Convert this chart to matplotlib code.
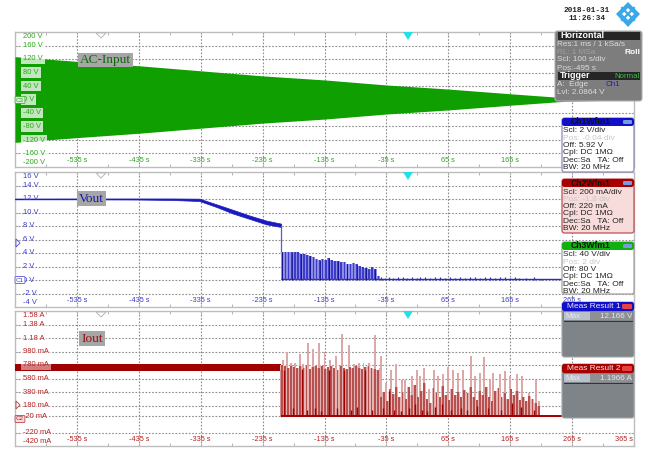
import matplotlib
matplotlib.use("Agg")
import matplotlib.pyplot as plt
from matplotlib.patches import FancyBboxPatch, Rectangle, Polygon

plt.rcParams['font.family'] = ['Liberation Sans', 'DejaVu Sans']

# time axis shared by the three traces
time_ticks = [-535, -435, -335, -235, -135, -35, 65, 165, 265, 365]
time_minor = [-585, -485, -385, -285, -185, -85, 15, 115, 215, 315]
time_labels = ['-535 s', '-435 s', '-335 s', '-235 s', '-135 s', '-35 s', '65 s', '165 s', '265 s', '365 s']

# AC input envelope
ac_t = [-635, -535, -435, -335, -235, -135, -35, 65, 165, 255, 365]
ac_upper = [127, 113, 100, 85, 70, 58, 43, 31, 17, 5, 1]
ac_ticks = [200, 160, 120, 80, 40, 0, -40, -80, -120, -160, -200]
ac_labels = ['200 V', '160 V', '120 V', '80 V', '40 V', '0 V', '-40 V', '-80 V', '-120 V', '-160 V', '-200 V']

# Vout: regulated part, then hiccup pulses
vout_t = [-635, -535, -435, -380, -337, -309, -283, -256, -229, -205]
vout_hi = [12.07, 12.08, 12.08, 12.08, 12.05, 11.2, 10.4, 9.55, 8.8, 8.35]
vout_lo = [11.95, 11.95, 11.92, 11.85, 11.7, 10.8, 9.85, 9.05, 8.25, 7.85]
vout_pulse_t = [-203, -198, -193, -188, -183, -178, -173, -168, -163, -158, -153, -148, -143, -138, -133, -128,
                -123, -118, -113, -108, -103, -98, -93, -88, -83, -78, -73, -68, -63, -58, -53, -48]
vout_pulse_v = [4.2, 4.1, 4.15, 4.2, 4.1, 4.15, 3.9, 3.8, 3.7, 3.5, 3.4, 3.1, 3.0, 3.05, 3.0, 3.2,
                2.9, 2.8, 2.85, 2.7, 2.6, 2.4, 2.3, 2.5, 2.3, 2.1, 2.0, 1.8, 1.7, 1.9, 1.7, 0.6]
vout_ripple_t = [-44, -38, -30, -24, -16, -8, -2, 6, 14, 20, 28, 36, 44, 52, 60, 68, 76, 84, 92, 100,
                 108, 116, 124, 132, 140, 148, 156, 164, 172, 180, 190, 204, 214]
vout_ripple_v = [0.4, 0.3, 0.45, 0.35, 0.5, 0.4, 0.3, 0.45, 0.35, 0.4, 0.45, 0.3, 0.45, 0.4, 0.3, 0.4, 0.35, 0.45, 0.3, 0.4,
                 0.45, 0.35, 0.4, 0.45, 0.3, 0.4, 0.5, 0.35, 0.45, 0.3, 0.35, 0.4, 0.2]
vout_ticks = [14, 12, 10, 8, 6, 4, 2, 0, -2]
vout_labels = ['14 V', '12 V', '10 V', '8 V', '6 V', '4 V', '2 V', '0 V', '-2 V']

# Iout: steady band, tall spikes, denser body of pulses, short dark pulses
iout_band_t = [-635, -205]
iout_band_hi = [0.795, 0.795]
iout_band_lo = [0.685, 0.685]
spike_t = [-202, -196, -189, -182, -175, -169, -161, -153, -144, -135, -126, -117, -107, -96, -88, -80, -72, -63, -54,
           -46, -43, -36, -27, -19, -10, -5, 6, 14, 20, 26, 34, 42, 49, 57, 65, 73, 81, 89, 101, 108, 116, 123, 132,
           138, 148, 156, 164, 176, 184, 195, 206, 212]
spike_a = [.86, .97, .81, .81, .95, .79, 1.10, 1.01, 1.11, .98, .86, .91, 1.24, 1.08, .79, .81, .81, .81, 1.23,
           .74, .92, .51, .71, .79, .56, .56, .61, .71, .61, .74, .42, .71, .61, .64, .75, .71, .66, .71, .92, .61,
           .66, .90, .56, .66, .64, .69, .61, .65, .61, .36, .56, .24]
body_t = [-204, -199, -194, -189, -184, -179, -174, -169, -164, -159, -154, -149, -144, -139, -134, -129, -124, -119,
          -114, -109, -104, -99, -94, -89, -84, -79, -74, -69, -64, -59, -54, -49, -44, -39, -34, -29, -24, -19, -14,
          -9, -4, 1, 6, 11, 16, 21, 26, 31, 36, 41, 46, 51, 56, 61, 66, 71, 76, 81, 86, 91, 96, 101, 106, 111, 116,
          121, 126, 131, 136, 141, 146, 151, 156, 161, 166, 171, 176, 181, 186, 191, 196, 201, 206, 211]
body_a = [.78, .76, .74, .77, .75, .73, .76, .74, .78, .72, .75, .77, .74, .76, .72, .75, .77, .73, .71, .76,
          .74, .72, .75, .73, .76, .74, .72, .75, .77, .74, .72, .70, .30, .38, .25, .42, .35, .46, .30, .38, .27,
          .45, .33, .48, .30, .40, .52, .28, .22, .44, .36, .30, .47, .33, .26, .42, .34, .38, .30, .41, .36,
          .45, .30, .26, .40, .34, .46, .30, .25, .39, .44, .30, .36, .28, .42, .33, .40, .26, .30, .24, .32, .28, .22, .18]
dark_t = [-200, -186, -172, -163, -150, -140, -128, -115, -104, -92, -83, -70, -58, -41, -31, -22, -12, 1, 11, 23,
          31, 44, 55, 70, 86, 95, 111, 129, 150, 168, 183, 204]
dark_a = [.70, .14, .72, .12, .14, .10, .70, .14, .70, .12, .16, .70, .12, .14, .40, .12, .10, .14, .20, .12,
          .10, .16, .20, .12, .14, .12, .18, .14, .12, .22, .16, .12]
iout_ticks = [1.38, 1.18, 0.98, 0.78, 0.58, 0.38, 0.18, 0.02, -0.22]
iout_labels = ['1.38 A', '1.18 A', '980 mA', '780 mA', '580 mA', '380 mA', '180 mA', '-20 mA', '-220 mA']

GREEN = '#0f9f00'
BLUE = '#1a1ac0'
RED = '#a00000'
GRID = '#8c8c8c'
W, H = 649, 449

fig = plt.figure(figsize=(W / 100, H / 100), dpi=100, facecolor='white')


def make_panel(top, bottom, ymin, ymax, ticks, labels, color, first, last, box_alpha, n_time):
    ax = fig.add_axes([15 / W, 1 - bottom / H, (634 - 15) / W, (bottom - top) / H])
    ax.set_xlim(-635, 365)
    ax.set_ylim(ymin, ymax)
    ax.set_xticks(time_ticks)
    ax.set_xticks(time_minor, minor=True)
    ax.set_yticks(ticks)
    ax.set_xticklabels([])
    ax.set_yticklabels([])
    ax.tick_params(which='both', direction='in', length=2, width=0.6, color='#a8a8a8', top=True, right=True)
    ax.grid(True, color=GRID, lw=0.8, ls=(0, (1.5, 1.5)), zorder=1)
    ax.set_axisbelow(True)
    for s in ax.spines.values():
        s.set_color('#bdbdbd')
        s.set_linewidth(1.0)
    # labels under the side boxes are left out
    for t, lab in zip(time_ticks[:n_time], time_labels[:n_time]):
        ha, dx = ('right', -1) if t == 365 else ('center', 0)
        ax.annotate(lab, (t, 0), xycoords=('data', 'axes fraction'), xytext=(dx, 2.5), textcoords='offset points',
                    ha=ha, va='bottom', fontsize=5.3, color=color, zorder=6)
    for v, lab in zip(ticks, labels):
        ax.annotate(lab, (0, v), xycoords=('axes fraction', 'data'), xytext=(6, 0), textcoords='offset points',
                    ha='left', va='center', fontsize=5.4, color=color, zorder=6,
                    bbox=dict(boxstyle='square,pad=0.25', fc='white', ec='none', alpha=box_alpha))
    # outermost labels sit inside the frame, off the scale
    ax.annotate(first, (0, 1), xycoords='axes fraction', xytext=(6, -3.5), textcoords='offset points',
                ha='left', va='center', fontsize=5.4, color=color)
    ax.annotate(last, (0, 0), xycoords='axes fraction', xytext=(6, 3.5), textcoords='offset points',
                ha='left', va='center', fontsize=5.4, color=color)
    return ax


ax1 = make_panel(32, 167, -200, 200, ac_ticks[1:-1], ac_labels[1:-1], '#2aa81a', ac_labels[0], ac_labels[-1], 0.75, 8)
ax2 = make_panel(172, 307, -4, 16, vout_ticks, vout_labels, '#3a3ad0', '16 V', '-4 V', 0, 9)
ax3 = make_panel(311, 446, -0.42, 1.58, iout_ticks, iout_labels, '#b52020', '1.58 A', '-420 mA', 0.5, 10)

ax1.fill_between(ac_t, ac_upper, [-v for v in ac_upper], color=GREEN, lw=0, zorder=3)

ax2.fill_between(vout_t, vout_hi, vout_lo, color=BLUE, lw=0.5, zorder=3)
ax2.plot([-205, -205], [8.0, 4.2], color='#5a5ad8', lw=0.9, zorder=3)
ax2.bar(vout_pulse_t, vout_pulse_v, width=5, color='#8c8ce4', lw=0, zorder=3)
ax2.bar(vout_pulse_t, vout_pulse_v, width=2.6, color='#3c3cc8', lw=0, zorder=3.5)
ax2.vlines(vout_pulse_t[::3], 0, vout_pulse_v[::3], color='#10108c', lw=0.6, zorder=4)
ax2.vlines(vout_ripple_t, 0, vout_ripple_v, color='#3030c0', lw=0.9, zorder=3)
ax2.hlines(0.08, -205, 365, color='#2a2ac4', lw=1.0, zorder=3)

ax3.fill_between(iout_band_t, iout_band_hi, iout_band_lo, color=RED, lw=0, zorder=3)
ax3.plot([-205, -205], [0.7, 0.02], color=RED, lw=1, zorder=4)
ax3.bar(spike_t, [a - 0.02 for a in spike_a], bottom=0.02, width=3.2, color='#dca8a8', lw=0, zorder=3)
ax3.bar(body_t, [a - 0.02 for a in body_a], bottom=0.02, width=5, color='#e2b4b4', lw=0, zorder=3.5)
ax3.bar(body_t, [a - 0.02 for a in body_a], bottom=0.02, width=3, color='#b85050', lw=0, zorder=4)
ax3.vlines(dark_t, 0.02, dark_a, color=RED, lw=1.0, zorder=5)
ax3.hlines(0.025, -205, 365, color=RED, lw=1.4, zorder=5)

# overlay in pixel coordinates for the instrument furniture
ov = fig.add_axes([0, 0, 1, 1], zorder=10)
ov.set_xlim(0, W)
ov.set_ylim(H, 0)
ov.axis('off')
ov.patch.set_alpha(0)


def box(x0, y0, x1, y1, fc, ec='none', lw=0.8, r=2.5, z=11):
    p = FancyBboxPatch((x0 + r, y0 + r), x1 - x0 - 2 * r, y1 - y0 - 2 * r, boxstyle=f'round,pad={r},rounding_size={r}',
                       fc=fc, ec=ec, lw=lw, zorder=z)
    ov.add_patch(p)


def txt(x, y, s, color='black', size=6.2, **kw):
    ov.text(x, y, s, color=color, fontsize=size, va='center', zorder=13, **kw)


# waveform name tags
for x0, y0, x1, y1, name, col in [(78, 53, 133, 67, 'AC-Input', '#0a6a0a'), (77, 191, 106, 206, 'Vout', '#1a1aa0'),
                                  (79, 331, 105, 346, 'Iout', '#9a1010')]:
    ov.add_patch(Rectangle((x0, y0), x1 - x0, y1 - y0, fc='#a6a6a6', ec='none', zorder=11))
    txt((x0 + x1) / 2, (y0 + y1) / 2, name, col, 9.5, ha='center', family=['Liberation Serif', 'DejaVu Serif'])

# trigger and position markers
for y in [32, 172, 311]:
    ov.add_patch(Polygon([(403, y), (413, y), (408, y + 8)], fc='#22e0e8', ec='none', zorder=12))
    ov.add_patch(Polygon([(96, y + 1), (106, y + 1), (101, y + 6)], fc='white', ec='#b8b8b8', lw=0.7, zorder=12))
ov.add_patch(Polygon([(16, 239), (16, 247), (20, 243)], fc='white', ec='#4a4ac8', lw=0.6, zorder=12))
ov.add_patch(Polygon([(16, 401), (16, 409), (20, 405)], fc='white', ec='#b04040', lw=0.6, zorder=12))
for yy, lab, col, fc in [(100, 'C3', '#2aa81a', '#d8f0d4'), (280, 'C1', '#3a3ad0', 'white'), (419, 'C2', '#b52020', '#f4dcdc')]:
    ov.text(20, yy, lab, color=col, fontsize=4.5, ha='center', va='center', zorder=12,
            bbox=dict(boxstyle='round,pad=0.15', fc=fc, ec=col, lw=0.5))

# date and logo
txt(587, 11, '2018-01-31', '#222222', 5.6, ha='center', weight='bold', family=['Liberation Mono', 'DejaVu Sans Mono'])
txt(587, 19, '11:26:34', '#222222', 5.6, ha='center', weight='bold', family=['Liberation Mono', 'DejaVu Sans Mono'])
ov.add_patch(Polygon([(628, 2), (640, 14), (628, 27), (616, 14)], fc='#3aa8e8', ec='none', zorder=11))
ov.add_patch(Polygon([(628, 8), (634, 14), (628, 20), (622, 14)], fc='white', ec='none', zorder=12))
ov.plot([622, 634], [8, 20], color='#3aa8e8', lw=1.6, zorder=13)
ov.plot([634, 622], [8, 20], color='#3aa8e8', lw=1.6, zorder=13)

# horizontal / trigger box
box(555, 31, 642, 101, '#7d7d7d', '#b0b0b0')
ov.add_patch(Rectangle((558, 32), 82, 7.5, fc='#262626', ec='none', zorder=12))
txt(560, 35.5, 'Horizontal', 'white', 6.4, weight='bold')
txt(557, 44, 'Res:1 ms / 1 kSa/s', '#dcdcdc', 5.9)
txt(557, 52, 'RL: 1 MSa', '#a0a0a0', 5.9)
txt(640, 52, 'Roll', 'white', 6, weight='bold', ha='right')
txt(557, 59.5, 'Scl: 100 s/div', '#dcdcdc', 5.9)
txt(557, 68, 'Pos:-495 s', '#dcdcdc', 5.9)
ov.add_patch(Rectangle((558, 72), 82, 8, fc='#262626', ec='none', zorder=12))
txt(560, 76, 'Trigger', 'white', 6.4, weight='bold')
txt(640, 76, 'Normal', '#40c040', 5.6, ha='right')
txt(557, 85, 'A:  Edge', '#dcdcdc', 5.9)
txt(606, 85, 'Ch1', '#2020c8', 5.9)
txt(557, 93, 'Lvl: 2.0864 V', '#dcdcdc', 5.9)

# channel boxes
channels = [
    (118, 172, 'Ch1Wfm1', '#1010c8', 'white', '#8a8ab8', ['Scl: 2 V/div', 'Pos: -0.04 div', 'Off: 5.92 V', 'Cpl: DC 1MΩ', 'Dec:Sa   TA: Off', 'BW: 20 MHz']),
    (179, 233, 'Ch2Wfm1', '#a80000', '#f8dcdc', '#c05050', ['Scl: 200 mA/div', 'Pos: -1.8 div', 'Off: 220 mA', 'Cpl: DC 1MΩ', 'Dec:Sa   TA: Off', 'BW: 20 MHz']),
    (242, 294, 'Ch3Wfm1', '#10b010', 'white', '#a0a0a0', ['Scl: 40 V/div', 'Pos: 2 div', 'Off: 80 V', 'Cpl: DC 1MΩ', 'Dec:Sa   TA: Off', 'BW: 20 MHz']),
]
for y0, y1, name, head, fc, ec, rows in channels:
    box(562, y0, 634, y1, fc, ec, lw=0.9)
    box(562, y0, 634, y0 + 8, head, 'none', r=2.5, z=12)
    txt(591, y0 + 4, name, '#101010', 6.2, ha='center', weight='bold')
    box(623, y0 + 2, 632, y0 + 6, '#7a9ae0', 'none', r=1.2, z=13)
    for i, row in enumerate(rows):
        col = '#c8c8c8' if i == 1 else '#222222'
        txt(563, y0 + 13 + i * 7.33, row, col, 6.0)

# measurement boxes
meas = [(302, 357, 'Meas Result 1', '#1010c8', '12.166 V'), (364, 418, 'Meas Result 2', '#a80000', '1.1966 A')]
for y0, y1, name, head, value in meas:
    box(562, y0, 634, y1, '#7f8488', '#a0a4a8', lw=0.8)
    box(562, y0, 634, y0 + 9, head, 'none', z=12)
    txt(567, y0 + 4.5, name, '#f0e8e8', 6)
    box(622, y0 + 2, 632, y0 + 7, '#e84040', 'none', r=1.2, z=13)
    ov.add_patch(Rectangle((564, y0 + 10), 26, 8, fc='#b8c0cc', ec='none', zorder=12))
    ov.add_patch(Rectangle((590, y0 + 10), 42, 8, fc='#8e9094', ec='none', zorder=12))
    ov.plot([564, 632], [y0 + 18.5, y0 + 18.5], color='#333333', lw=0.7, zorder=13)
    txt(565, y0 + 14, 'Max', '#e8e8e8', 5.8)
    txt(632, y0 + 14, value, '#e8e8e8', 5.8, ha='right')

fig.savefig('out.png', dpi=100)
